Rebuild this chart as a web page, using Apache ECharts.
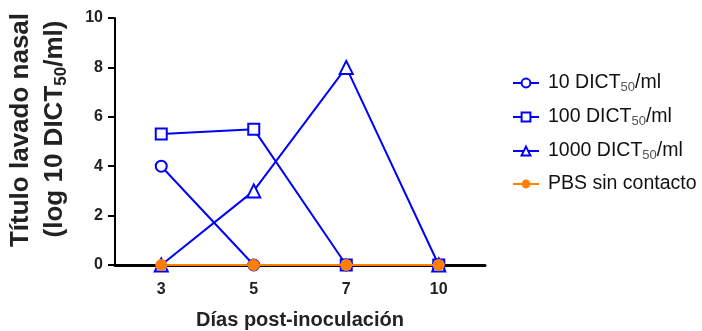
<!DOCTYPE html>
<html>
<head>
<meta charset="utf-8">
<script src="https://cdn.jsdelivr.net/npm/echarts@6/dist/echarts.min.js"></script>
<style>
  html, body { margin: 0; padding: 0; background: #fff; }
  #chart { width: 702px; height: 331px; }
</style>
</head>
<body>
<div id="chart"></div>
<script>
// Days after inoculation (category axis)
const days = ['3', '5', '7', '10'];

// Nasal wash titre, log10 TCID50/ml
const dose10 = [4, 0, 0, 0];
const dose100 = [5.3, 5.5, 0, 0];
const dose1000 = [0, 3, 8, 0];
const pbs = [0, 0, 0, 0];

const yTicks = [0, 2, 4, 6, 8, 10];

const seriesNames = ['10 DICT50/ml', '100 DICT50/ml', '1000 DICT50/ml', 'PBS sin contacto'];

const FONT = '"Liberation Sans", Arial, sans-serif';
const BLUE = '#0000ff';
const ORANGE = '#ff7f00';

const chart = echarts.init(document.getElementById('chart'), null, { renderer: 'canvas' });

// Legend labels: render the "50" of DICT50 as a subscript
function legendLabel(name) {
  const m = name.match(/^(.*DICT)50(\/ml)$/);
  if (m) return '{g|}{t|' + m[1] + '}{s|50}{t|' + m[2] + '}';
  return '{g|}{t|' + name + '}';
}

const blueLine = (name, data, symbol, size) => ({
  name: name,
  type: 'line',
  data: data,
  symbol: symbol,
  symbolSize: size,
  showSymbol: true,
  lineStyle: { color: BLUE, width: 2 },
  itemStyle: { color: '#fff', borderColor: BLUE, borderWidth: 2 },
  emphasis: { disabled: true },
  animation: false
});

chart.setOption({
  animation: false,
  grid: { left: 115, right: 217, top: 18, bottom: 66, containLabel: false, outerBoundsMode: 'none' },
  xAxis: {
    type: 'category',
    data: days,
    boundaryGap: true,
    axisLine: { lineStyle: { color: '#000', width: 3 } },
    axisTick: { alignWithLabel: true, length: 6, lineStyle: { color: '#000', width: 2 } },
    axisLabel: { color: '#222', fontFamily: FONT, fontWeight: 'bold', fontSize: 16, margin: 17 },
    name: 'Días post-inoculación',
    nameLocation: 'middle',
    nameGap: 45,
    nameTextStyle: { color: '#222', fontFamily: FONT, fontWeight: 'bold', fontSize: 20 }
  },
  yAxis: {
    type: 'value',
    min: yTicks[0],
    max: yTicks[yTicks.length - 1],
    interval: 2,
    splitLine: { show: false },
    axisLine: { show: true, lineStyle: { color: '#000', width: 2 } },
    axisTick: { show: true, length: 7, lineStyle: { color: '#000', width: 2 } },
    axisLabel: { color: '#222', fontFamily: FONT, fontWeight: 'bold', fontSize: 16, margin: 12 }
  },
  legend: {
    orient: 'vertical',
    left: 507,
    top: 67,
    itemWidth: 26,
    itemHeight: 11,
    itemGap: 12,
    data: seriesNames,
    formatter: legendLabel,
    textStyle: {
      fontFamily: FONT,
      fontSize: 20,
      color: '#111',
      rich: {
        g: { width: 4, lineHeight: 22 },
        t: { fontFamily: FONT, fontSize: 19.5, color: '#111', lineHeight: 22 },
        s: { fontFamily: FONT, fontSize: 13, color: '#555', verticalAlign: 'bottom', lineHeight: 22, padding: [9, 0, 0, 0] }
      }
    }
  },
  graphic: [
    {
      type: 'text',
      x: 21,
      y: 130,
      rotation: Math.PI / 2,
      style: {
        text: 'Título lavado nasal',
        font: 'bold 26px ' + FONT,
        fill: '#222',
        align: 'center',
        verticalAlign: 'middle'
      }
    },
    {
      type: 'text',
      x: 55,
      y: 129,
      rotation: Math.PI / 2,
      style: {
        text: '{t|(log 10 DICT}{s|50}{t|/ml)}',
        align: 'center',
        verticalAlign: 'middle',
        rich: {
          t: { font: 'bold 26px ' + FONT, fill: '#222', lineHeight: 30 },
          s: { font: 'bold 17px ' + FONT, fill: '#222', lineHeight: 30, verticalAlign: 'bottom', padding: [11, 0, 0, 0] }
        }
      }
    }
  ],
  series: [
    blueLine(seriesNames[0], dose10, 'circle', 11),
    blueLine(seriesNames[1], dose100, 'rect', 11),
    blueLine(seriesNames[2], dose1000, 'triangle', 13),
    {
      name: seriesNames[3],
      type: 'line',
      data: pbs,
      symbol: 'circle',
      symbolSize: 11,
      lineStyle: { color: ORANGE, width: 2 },
      itemStyle: { color: ORANGE, borderColor: ORANGE },
      emphasis: { disabled: true },
      z: 5,
      animation: false
    }
  ]
});
</script>
</body>
</html>
